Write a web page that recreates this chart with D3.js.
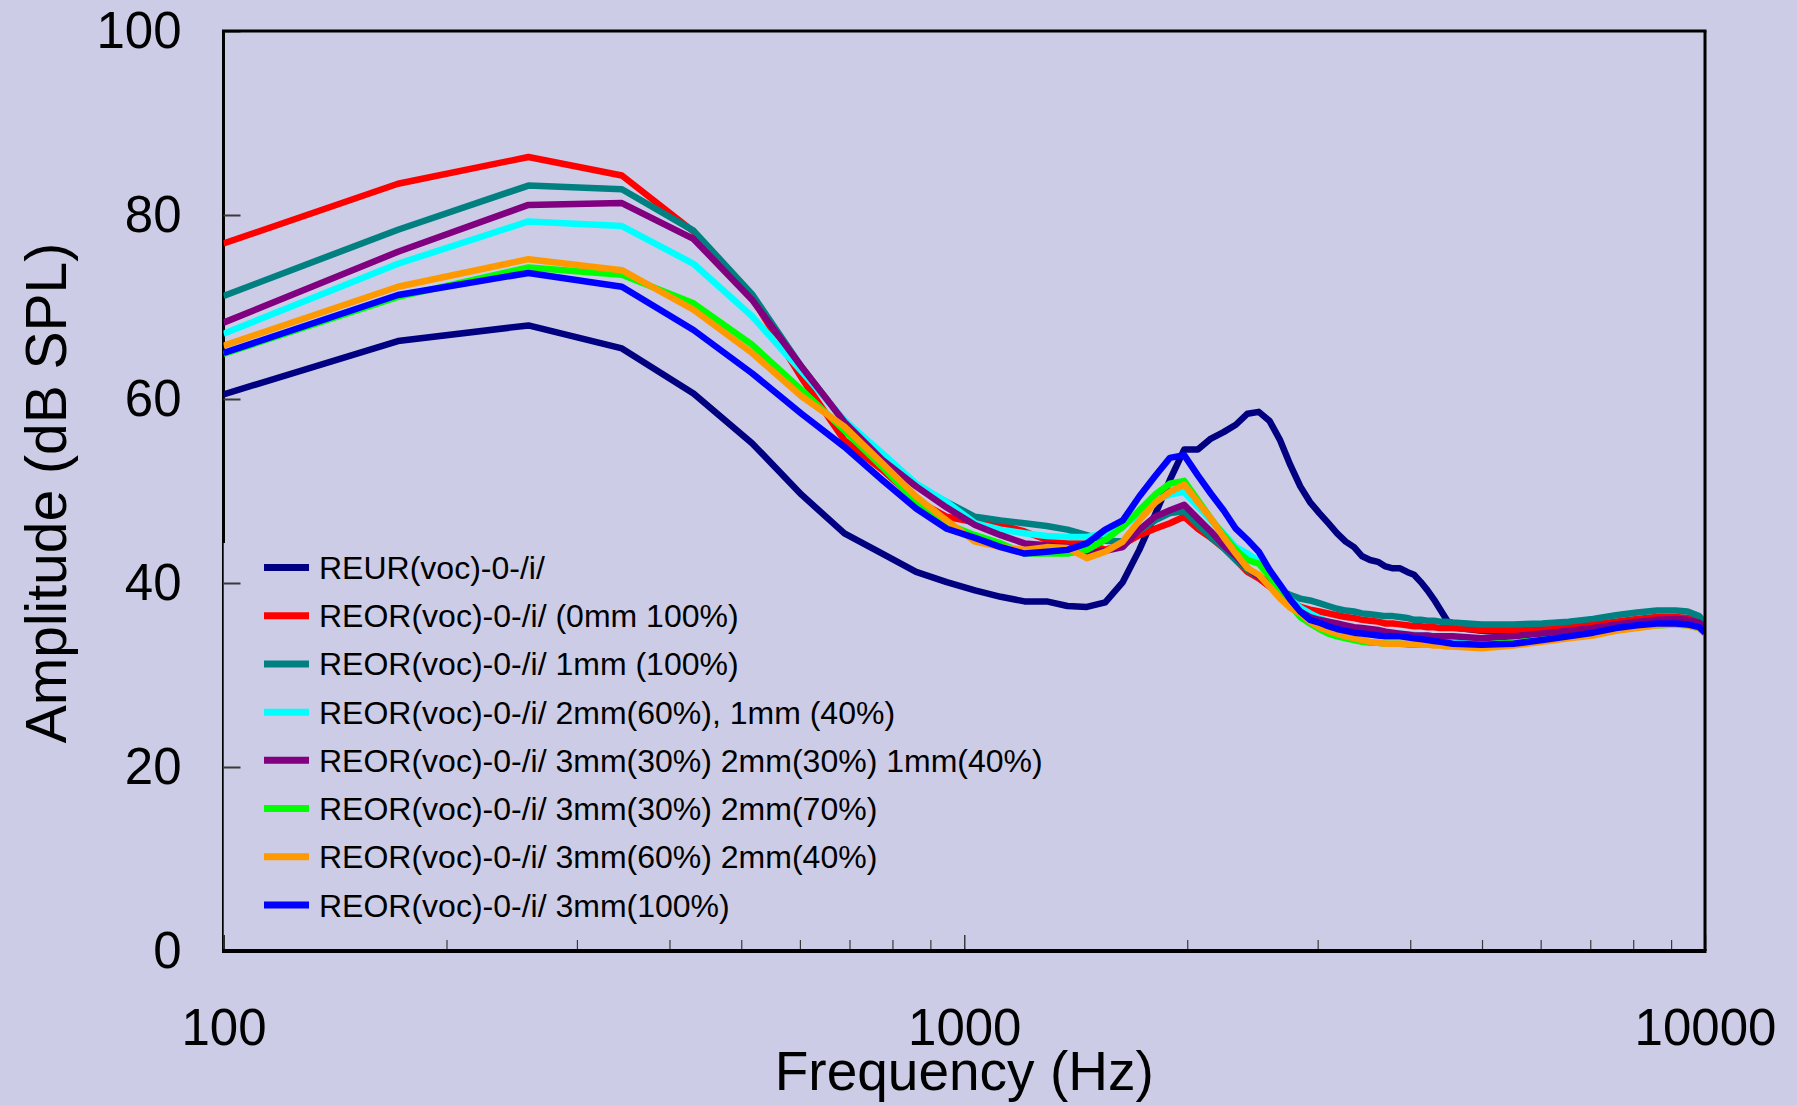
<!DOCTYPE html>
<html>
<head>
<meta charset="utf-8">
<script src="https://cdn.jsdelivr.net/npm/d3@7/dist/d3.min.js"></script>
<style>
  html, body { margin: 0; padding: 0; background: #cccce6; }
  svg { display: block; }
  text { font-family: "Liberation Sans", Arial, sans-serif; fill: #000; }
</style>
</head>
<body>
<svg id="chart" width="1797" height="1105"></svg>
<script>
// FFT bin centre frequencies (Hz) at which each response was sampled
const freqHz = [100, 172, 258, 345, 431, 517, 603, 689, 775, 861, 947, 1034, 1120, 1206, 1292,
  1378, 1464, 1550, 1637, 1723, 1809, 1895, 1981, 2067, 2153, 2239, 2326, 2412, 2498, 2584,
  2670, 2756, 2842, 2929, 3015, 3101, 3187, 3273, 3359, 3445, 3531, 3618, 3704, 3790, 3876,
  3962, 4048, 4134, 4221, 4307, 4393, 4479, 4565, 4996, 5513, 6029, 6546, 7063, 7580, 8097,
  8613, 9130, 9475, 9819, 10000];

// Amplitudes in dB SPL, one array per condition
const reurOpen = [60.5, 66.3, 68.0, 65.5, 60.6, 55.2, 49.6, 45.4, 43.2, 41.2,
  40.1, 39.2, 38.5, 38.0, 38.0, 37.5, 37.4, 37.9, 40.1, 43.6,
  47.4, 51.2, 54.5, 54.5, 55.7, 56.4, 57.2, 58.4, 58.6, 57.6,
  55.5, 52.8, 50.5, 48.8, 47.6, 46.5, 45.4, 44.5, 43.9, 42.9,
  42.5, 42.3, 41.8, 41.6, 41.6, 41.2, 40.9, 40.1, 39.2, 38.2,
  37.1, 36.0, 35.2, 34.8, 34.6, 34.6, 34.8, 35.0, 35.3, 35.6,
  35.8, 35.8, 35.7, 35.4, 34.8];

const reor0mm = [76.9, 83.4, 86.3, 84.3, 78.2, 71.0, 62.3, 55.5, 52.3, 49.0,
  47.2, 46.6, 46.3, 45.6, 44.7, 44.3, 44.3, 43.6, 44.2, 45.2,
  45.9, 46.5, 47.2, 45.9, 44.9, 43.8, 42.5, 41.2, 40.5, 39.6,
  38.7, 38.0, 37.4, 37.1, 36.9, 36.7, 36.5, 36.3, 36.2, 36.0,
  35.9, 35.8, 35.6, 35.6, 35.5, 35.4, 35.3, 35.3, 35.2, 35.2,
  35.1, 35.1, 35.1, 34.9, 34.9, 35.1, 35.2, 35.5, 35.8, 36.1,
  36.3, 36.3, 36.2, 35.9, 35.5];

const reor1mm = [71.2, 78.4, 83.2, 82.8, 78.3, 71.4, 63.5, 57.5, 53.5, 50.6,
  48.8, 47.2, 46.8, 46.5, 46.2, 45.8, 45.2, 44.6, 44.5, 45.7,
  46.8, 47.6, 47.8, 46.3, 45.0, 43.8, 42.5, 41.4, 40.7, 40.1,
  39.2, 38.7, 38.3, 38.1, 37.8, 37.5, 37.2, 37.0, 36.9, 36.7,
  36.6, 36.5, 36.4, 36.4, 36.3, 36.2, 36.0, 36.0, 35.9, 35.9,
  35.8, 35.8, 35.7, 35.5, 35.5, 35.6, 35.8, 36.1, 36.5, 36.8,
  37.0, 37.0, 36.9, 36.4, 35.6];

const reor2mm60 = [67.1, 74.7, 79.3, 78.8, 74.7, 69.0, 63.0, 57.7, 54.1, 50.8,
  48.8, 46.5, 45.8, 45.4, 45.1, 45.0, 45.0, 45.4, 46.1, 47.6,
  49.0, 49.6, 49.9, 48.3, 46.8, 45.4, 43.9, 43.2, 42.4, 41.0,
  39.4, 38.2, 37.3, 36.7, 36.2, 35.8, 35.5, 35.3, 35.1, 34.9,
  34.8, 34.7, 34.6, 34.5, 34.5, 34.4, 34.4, 34.3, 34.3, 34.2,
  34.2, 34.1, 34.1, 33.9, 33.9, 34.2, 34.5, 34.9, 35.3, 35.6,
  35.8, 35.8, 35.7, 35.4, 34.9];

const reor3mm30_2mm30 = [68.3, 76.0, 81.1, 81.3, 77.4, 70.8, 63.5, 57.5, 53.4, 50.5,
  48.2, 46.3, 45.2, 44.3, 44.1, 43.9, 43.2, 43.5, 43.9, 45.8,
  47.2, 47.9, 48.5, 47.0, 45.6, 44.1, 42.9, 41.6, 40.7, 39.8,
  38.9, 37.8, 36.9, 36.3, 36.0, 35.8, 35.6, 35.4, 35.2, 35.1,
  35.0, 34.9, 34.7, 34.6, 34.5, 34.4, 34.3, 34.3, 34.3, 34.2,
  34.2, 34.2, 34.2, 34.0, 34.2, 34.5, 34.8, 35.1, 35.5, 35.8,
  36.0, 36.1, 36.0, 35.7, 35.1];

const reor3mm30_2mm70 = [64.9, 71.1, 74.3, 73.5, 70.4, 65.9, 61.0, 56.6, 52.6, 48.8,
  46.4, 45.2, 44.3, 43.2, 43.2, 43.2, 43.6, 44.7, 46.1, 47.9,
  49.6, 50.8, 51.1, 49.0, 47.0, 45.2, 43.6, 42.5, 42.1, 40.7,
  39.1, 37.6, 36.3, 35.6, 35.0, 34.5, 34.2, 34.0, 33.8, 33.6,
  33.5, 33.5, 33.4, 33.4, 33.4, 33.3, 33.3, 33.3, 33.3, 33.3,
  33.3, 33.3, 33.3, 33.3, 33.5, 33.8, 34.1, 34.4, 34.9, 35.2,
  35.4, 35.5, 35.4, 35.1, 34.5];

const reor3mm60_2mm40 = [65.8, 72.2, 75.2, 74.0, 69.7, 65.0, 60.3, 57.0, 53.0, 49.4,
  46.8, 44.5, 43.9, 43.6, 43.9, 43.8, 42.7, 43.4, 44.5, 46.8,
  48.7, 49.9, 50.7, 48.8, 47.0, 45.0, 43.2, 41.6, 40.9, 39.6,
  38.3, 37.3, 36.7, 35.8, 35.2, 34.8, 34.5, 34.2, 34.0, 33.8,
  33.6, 33.5, 33.4, 33.4, 33.4, 33.4, 33.4, 33.3, 33.3, 33.2,
  33.2, 33.1, 33.1, 32.9, 33.2, 33.6, 34.0, 34.3, 34.8, 35.1,
  35.4, 35.5, 35.4, 35.1, 34.5];

const reor3mm100 = [65.0, 71.3, 73.7, 72.2, 67.5, 62.8, 58.4, 54.8, 51.2, 48.1,
  45.9, 44.9, 43.9, 43.2, 43.4, 43.6, 44.3, 45.8, 46.8, 49.4,
  51.6, 53.6, 53.9, 51.7, 49.7, 47.9, 45.9, 44.7, 43.4, 41.4,
  39.8, 38.2, 36.9, 36.0, 35.7, 35.3, 35.0, 34.8, 34.6, 34.5,
  34.4, 34.3, 34.2, 34.2, 34.2, 34.1, 34.0, 33.9, 33.8, 33.7,
  33.6, 33.5, 33.4, 33.3, 33.4, 33.8, 34.2, 34.6, 35.1, 35.4,
  35.6, 35.6, 35.5, 35.2, 34.6];

const seriesLabels = [
  "REUR(voc)-0-/i/",
  "REOR(voc)-0-/i/ (0mm 100%)",
  "REOR(voc)-0-/i/ 1mm (100%)",
  "REOR(voc)-0-/i/ 2mm(60%), 1mm (40%)",
  "REOR(voc)-0-/i/ 3mm(30%) 2mm(30%) 1mm(40%)",
  "REOR(voc)-0-/i/ 3mm(30%) 2mm(70%)",
  "REOR(voc)-0-/i/ 3mm(60%) 2mm(40%)",
  "REOR(voc)-0-/i/ 3mm(100%)"
];
const seriesValues = [reurOpen, reor0mm, reor1mm, reor2mm60, reor3mm30_2mm30,
  reor3mm30_2mm70, reor3mm60_2mm40, reor3mm100];
const seriesColors = ["#000080", "#ff0000", "#008080", "#00ffff", "#800080",
  "#00ff00", "#ff9900", "#0000ff"];

const xMajorTicks = [100, 1000, 10000];
const xMinorTicks = [200, 300, 400, 500, 600, 700, 800, 900,
  2000, 3000, 4000, 5000, 6000, 7000, 8000, 9000];
const yTicks = [0, 20, 40, 60, 80, 100];

const bg = "#cccce6";
const plot = { left: 223.5, right: 1705, top: 31, bottom: 951 };

const svg = d3.select("#chart");
svg.append("rect").attr("width", 1797).attr("height", 1105).attr("fill", bg);

const x = d3.scaleLog().domain([100, 10000]).range([plot.left, plot.right]);
const y = d3.scaleLinear().domain([0, 100]).range([plot.bottom, plot.top]);

svg.append("clipPath").attr("id", "plotClip")
  .append("rect")
  .attr("x", plot.left).attr("y", plot.top - 5)
  .attr("width", plot.right - plot.left).attr("height", plot.bottom - plot.top + 5);

// left axis line (partly covered by the legend panel)
svg.append("line")
  .attr("x1", plot.left).attr("x2", plot.left)
  .attr("y1", plot.top).attr("y2", plot.bottom)
  .attr("stroke", "#000").attr("stroke-width", 3);

// legend panel
const legendTop = 543;
svg.append("rect")
  .attr("x", plot.left + 0.2).attr("y", legendTop)
  .attr("width", 840).attr("height", 392)
  .attr("fill", bg);

// y axis ticks and labels
const yAxis = d3.axisLeft(y).tickValues(yTicks).tickSizeInner(-17).tickSizeOuter(0)
  .tickPadding(42).tickFormat(d3.format("d"));
const gy = svg.append("g").attr("transform", `translate(${plot.left},0)`).call(yAxis);
gy.select(".domain").remove();
gy.selectAll(".tick line").attr("stroke", "#3a3a3a").attr("stroke-width", 2);
gy.selectAll(".tick text").attr("font-size", 51)
  .attr("font-family", "'Liberation Sans', Arial, sans-serif").attr("fill", "#000");

// x axis: major and minor ticks
const xMajor = d3.axisBottom(x).tickValues(xMajorTicks).tickSizeInner(-16).tickSizeOuter(0)
  .tickPadding(58).tickFormat(d3.format("d"));
const gx = svg.append("g").attr("transform", `translate(0,${plot.bottom})`).call(xMajor);
gx.select(".domain").remove();
gx.selectAll(".tick line").attr("stroke", "#3a3a3a").attr("stroke-width", 1.5);
gx.selectAll(".tick text").attr("font-size", 51)
  .attr("font-family", "'Liberation Sans', Arial, sans-serif").attr("fill", "#000");

const xMinor = d3.axisBottom(x).tickValues(xMinorTicks).tickSizeInner(-11).tickSizeOuter(0)
  .tickFormat("");
const gxm = svg.append("g").attr("transform", `translate(0,${plot.bottom})`).call(xMinor);
gxm.select(".domain").remove();
gxm.selectAll(".tick line").attr("stroke", "#3a3a3a").attr("stroke-width", 1.2);

// response curves
const line = d3.line()
  .x((d, i) => x(freqHz[i]))
  .y(d => y(d));

const curves = svg.append("g").attr("clip-path", "url(#plotClip)");
seriesValues.forEach((vals, k) => {
  curves.append("path")
    .datum(vals)
    .attr("d", line)
    .attr("fill", "none")
    .attr("stroke", seriesColors[k])
    .attr("stroke-width", 6.5)
    .attr("stroke-linejoin", "round");
});

// frame: top, right, bottom
svg.append("line").attr("x1", plot.left - 1.5).attr("x2", plot.right + 1.5)
  .attr("y1", plot.top).attr("y2", plot.top).attr("stroke", "#000").attr("stroke-width", 3);
svg.append("line").attr("x1", plot.right).attr("x2", plot.right)
  .attr("y1", plot.top).attr("y2", plot.bottom).attr("stroke", "#000").attr("stroke-width", 3);
svg.append("line").attr("x1", plot.left - 1.5).attr("x2", plot.right + 1.5)
  .attr("y1", plot.bottom).attr("y2", plot.bottom).attr("stroke", "#000").attr("stroke-width", 4);

// legend entries
const legendRowY = d3.scaleLinear().domain([0, 7]).range([567.5, 905]);
const lg = svg.append("g");
seriesLabels.forEach((label, k) => {
  const row = lg.append("g").attr("transform", `translate(0,${legendRowY(k)})`);
  row.append("line").attr("x1", 264).attr("x2", 309).attr("y1", 0).attr("y2", 0)
    .attr("stroke", seriesColors[k]).attr("stroke-width", 7);
  row.append("text").attr("x", 319).attr("y", 11.5)
    .attr("font-size", 32).text(label);
});

// axis titles
svg.append("text")
  .attr("x", x(1000)).attr("y", 1090)
  .attr("text-anchor", "middle").attr("font-size", 55)
  .text("Frequency (Hz)");

svg.append("text")
  .attr("transform", "translate(66,493) rotate(-90)")
  .attr("text-anchor", "middle").attr("font-size", 57)
  .text("Amplitude (dB SPL)");
</script>
</body>
</html>
